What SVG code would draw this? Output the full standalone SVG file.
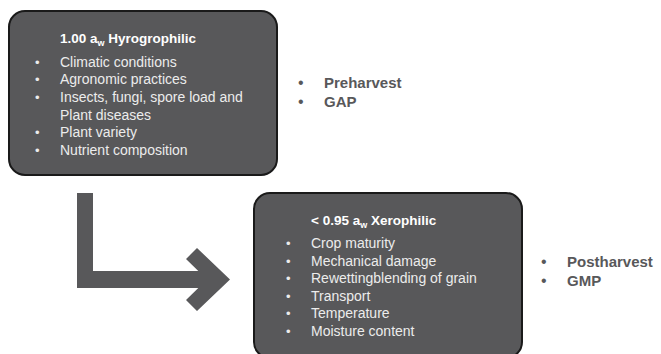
<svg xmlns="http://www.w3.org/2000/svg" width="661" height="354" viewBox="0 0 661 354">
<style>
.box{fill:#58585a;stroke:#1a1a1a;stroke-width:2}
.t{font-family:"Liberation Sans",Arial,sans-serif;font-size:14px;fill:#ececec}
.h{font-family:"Liberation Sans",Arial,sans-serif;font-size:13.5px;font-weight:bold;fill:#ffffff}
.sub{font-size:9px}
.b{font-family:"Liberation Sans",Arial,sans-serif;font-size:13px;fill:#ececec}
.s{font-family:"Liberation Sans",Arial,sans-serif;font-size:15px;font-weight:bold;fill:#58585a}
.sb{font-family:"Liberation Sans",Arial,sans-serif;font-size:16px;fill:#58585a}
</style>
<rect width="661" height="354" fill="#ffffff"/>
<g id="box1">
<rect class="box" x="9" y="11" width="268" height="164" rx="16"/>
<text class="h" x="60" y="43">1.00 a<tspan class="sub" dy="3">w</tspan><tspan dy="-3"> Hyrogrophilic</tspan></text>
<text class="b" x="35" y="67">•</text><text class="t" x="60" y="67">Climatic conditions</text>
<text class="b" x="35" y="84">•</text><text class="t" x="60" y="84">Agronomic practices</text>
<text class="b" x="35" y="102">•</text><text class="t" x="60" y="102">Insects, fungi, spore load and</text>
<text class="t" x="60" y="120">Plant diseases</text>
<text class="b" x="35" y="137">•</text><text class="t" x="60" y="137">Plant variety</text>
<text class="b" x="35" y="155">•</text><text class="t" x="60" y="155">Nutrient composition</text>
</g>
<g id="label1">
<text class="sb" x="298" y="88">•</text><text class="s" x="324" y="88">Preharvest</text>
<text class="sb" x="298" y="107">•</text><text class="s" x="324" y="107">GAP</text>
</g>
<g id="box2">
<rect class="box" x="254" y="193" width="268" height="165" rx="16"/>
<text class="h" x="311" y="225">&lt; 0.95 a<tspan class="sub" dy="3">w</tspan><tspan dy="-3"> Xerophilic</tspan></text>
<text class="b" x="286" y="248">•</text><text class="t" x="311" y="248">Crop maturity</text>
<text class="b" x="286" y="266">•</text><text class="t" x="311" y="266">Mechanical damage</text>
<text class="b" x="286" y="283">•</text><text class="t" x="311" y="283">Rewettingblending of grain</text>
<text class="b" x="286" y="301">•</text><text class="t" x="311" y="301">Transport</text>
<text class="b" x="286" y="318">•</text><text class="t" x="311" y="318">Temperature</text>
<text class="b" x="286" y="336">•</text><text class="t" x="311" y="336">Moisture content</text>
</g>
<g id="label2">
<text class="sb" x="541" y="267">•</text><text class="s" x="567" y="267">Postharvest</text>
<text class="sb" x="541" y="286">•</text><text class="s" x="567" y="286">GMP</text>
</g>
<g id="connectors">
<path d="M77 193 H93 V271 H212 V288 H77 Z" fill="#58585a"/>
<polygon points="197,248 230,279.5 197,311 186,300 207,279.5 186,259" fill="#58585a"/>
</g>
</svg>
